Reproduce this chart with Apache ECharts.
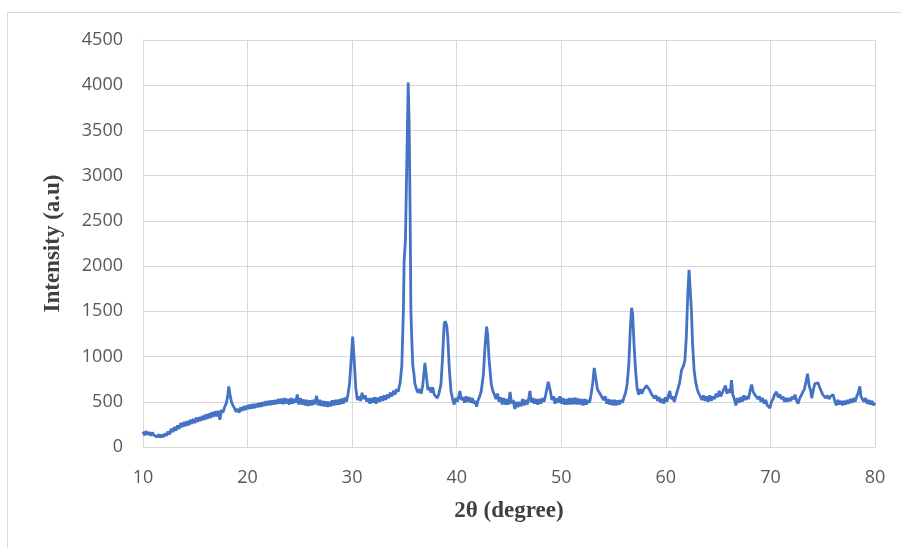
<!DOCTYPE html>
<html>
<head>
<meta charset="utf-8">
<style>
  html, body { margin: 0; padding: 0; background: #fff; }
  #chart { width: 901px; height: 548px; }
</style>
<script src="https://cdn.jsdelivr.net/npm/echarts@6/dist/echarts.min.js"></script>
</head>
<body>
<div id="chart"></div>
<script>
// XRD scan: [2θ, intensity]
const scan = [
  [10.0, 170], [10.15, 130], [10.3, 175], [10.45, 135], [10.6, 165], [10.75, 125], [10.9, 160], [11.05, 130],
  [11.2, 150], [11.35, 110], [11.5, 140], [11.65, 105], [11.8, 135], [11.95, 110], [12.1, 150], [12.25, 125],
  [12.4, 170], [12.55, 140], [12.7, 200], [12.85, 165], [13.0, 220], [13.15, 180], [13.3, 240], [13.45, 200],
  [13.6, 265], [13.75, 220], [13.9, 275], [14.05, 230], [14.2, 285], [14.35, 240], [14.5, 300], [14.65, 255],
  [14.8, 310], [14.95, 265], [15.1, 325], [15.25, 280], [15.4, 330], [15.55, 290], [15.7, 345], [15.85, 300],
  [16.0, 360], [16.15, 310], [16.3, 370], [16.45, 320], [16.6, 385], [16.75, 335], [16.9, 395], [17.05, 340],
  [17.2, 400], [17.35, 300], [17.5, 410], [17.65, 380], [17.8, 440], [17.95, 480], [18.1, 560], [18.2, 670],
  [18.3, 590], [18.45, 500], [18.6, 460], [18.75, 430], [18.9, 390], [19.05, 420], [19.2, 380], [19.35, 440],
  [19.5, 400], [19.65, 450], [19.8, 410], [19.95, 460], [20.1, 420], [20.25, 470], [20.4, 425], [20.55, 475],
  [20.7, 430], [20.85, 480], [21.0, 440], [21.15, 490], [21.3, 445], [21.45, 495], [21.6, 455], [21.75, 505],
  [21.9, 460], [22.05, 510], [22.2, 465], [22.35, 515], [22.5, 470], [22.65, 520], [22.8, 475], [22.95, 530],
  [23.1, 480], [23.25, 535], [23.4, 475], [23.55, 540], [23.7, 480], [23.85, 530], [24.0, 470], [24.15, 540],
  [24.3, 480], [24.45, 530], [24.6, 490], [24.75, 580], [24.9, 470], [25.05, 540], [25.2, 470], [25.35, 525],
  [25.5, 460], [25.65, 520], [25.8, 455], [25.95, 515], [26.1, 460], [26.25, 520], [26.4, 470], [26.6, 565],
  [26.75, 460], [26.9, 520], [27.05, 455], [27.2, 510], [27.35, 450], [27.5, 505], [27.65, 445], [27.8, 500],
  [27.95, 450], [28.1, 515], [28.25, 460], [28.4, 520], [28.55, 465], [28.7, 525], [28.85, 470], [29.0, 535],
  [29.15, 480], [29.3, 545], [29.45, 500], [29.6, 580], [29.75, 700], [29.9, 950], [30.05, 1220], [30.2, 950],
  [30.35, 650], [30.5, 520], [30.65, 560], [30.8, 510], [30.95, 600], [31.1, 530], [31.25, 570], [31.4, 500],
  [31.55, 540], [31.7, 480], [31.85, 540], [32.0, 490], [32.15, 550], [32.3, 480], [32.45, 545], [32.6, 500],
  [32.75, 560], [32.9, 510], [33.05, 570], [33.2, 520], [33.35, 580], [33.5, 540], [33.65, 600], [33.8, 560],
  [33.95, 620], [34.1, 580], [34.25, 640], [34.4, 610], [34.6, 720], [34.75, 900], [34.9, 1500], [34.97, 2050],
  [35.1, 2300], [35.25, 3300], [35.36, 4030], [35.45, 3600], [35.55, 2500], [35.62, 1500], [35.7, 1200], [35.8, 900],
  [35.9, 820], [36.0, 700], [36.15, 640], [36.3, 600], [36.45, 640], [36.6, 590], [36.75, 680], [36.85, 800],
  [36.96, 930], [37.1, 780], [37.25, 630], [37.4, 660], [37.55, 600], [37.7, 660], [37.85, 580], [38.0, 600],
  [38.15, 540], [38.3, 590], [38.5, 700], [38.65, 1000], [38.8, 1360], [38.9, 1390], [39.05, 1340], [39.15, 1200],
  [39.3, 850], [39.45, 620], [39.6, 530], [39.75, 470], [39.9, 540], [40.05, 500], [40.2, 560], [40.3, 620],
  [40.45, 520], [40.6, 550], [40.75, 490], [40.9, 560], [41.05, 500], [41.2, 550], [41.35, 490], [41.5, 540],
  [41.65, 480], [41.8, 510], [41.9, 445], [42.05, 520], [42.2, 560], [42.35, 620], [42.55, 800], [42.7, 1100],
  [42.86, 1330], [42.95, 1250], [43.1, 960], [43.3, 700], [43.45, 620], [43.6, 580], [43.75, 530], [43.9, 590],
  [44.05, 500], [44.2, 550], [44.35, 470], [44.5, 540], [44.65, 470], [44.8, 530], [44.95, 470], [45.1, 610],
  [45.25, 480], [45.4, 520], [45.56, 420], [45.7, 500], [45.85, 440], [46.0, 500], [46.15, 450], [46.3, 530],
  [46.45, 460], [46.6, 520], [46.75, 470], [46.9, 540], [47.0, 620], [47.15, 490], [47.3, 540], [47.45, 480],
  [47.6, 530], [47.75, 470], [47.9, 530], [48.05, 480], [48.2, 540], [48.35, 500], [48.5, 570], [48.75, 720],
  [48.95, 620], [49.1, 520], [49.25, 560], [49.4, 480], [49.55, 540], [49.7, 490], [49.87, 560], [50.0, 480],
  [50.15, 540], [50.3, 470], [50.45, 530], [50.6, 470], [50.75, 540], [50.9, 470], [51.05, 540], [51.2, 475],
  [51.35, 545], [51.5, 470], [51.65, 535], [51.8, 470], [51.95, 530], [52.1, 460], [52.25, 530], [52.4, 470],
  [52.55, 520], [52.7, 490], [52.85, 580], [53.0, 700], [53.15, 875], [53.3, 760], [53.45, 640], [53.6, 660],
  [53.75, 580], [53.9, 590], [54.05, 520], [54.2, 560], [54.35, 480], [54.5, 530], [54.65, 470], [54.8, 520],
  [54.95, 460], [55.1, 520], [55.25, 460], [55.4, 515], [55.55, 470], [55.7, 520], [55.85, 490], [56.0, 550],
  [56.15, 600], [56.3, 700], [56.45, 900], [56.6, 1300], [56.72, 1540], [56.82, 1480], [56.95, 1150], [57.1, 850],
  [57.25, 650], [57.4, 580], [57.55, 640], [57.7, 590], [57.85, 630], [58.0, 610], [58.15, 680], [58.3, 700],
  [58.45, 630], [58.6, 590], [58.75, 600], [58.9, 540], [59.05, 570], [59.2, 510], [59.35, 550], [59.5, 490],
  [59.65, 530], [59.8, 480], [59.95, 550], [60.1, 500], [60.25, 570], [60.38, 620], [60.5, 530], [60.65, 560],
  [60.8, 500], [60.95, 560], [61.1, 620], [61.3, 700], [61.5, 850], [61.7, 900], [61.82, 960], [61.95, 1200],
  [62.1, 1700], [62.22, 1960], [62.35, 1950], [62.45, 1500], [62.55, 1150], [62.7, 850], [62.85, 720], [63.0, 640],
  [63.15, 590], [63.3, 560], [63.45, 520], [63.6, 570], [63.75, 510], [63.9, 560], [64.05, 500], [64.2, 570],
  [64.35, 510], [64.5, 560], [64.65, 530], [64.8, 590], [64.95, 550], [65.1, 620], [65.25, 560], [65.4, 600],
  [65.55, 640], [65.7, 680], [65.85, 590], [66.0, 640], [66.15, 600], [66.28, 740], [66.4, 580], [66.55, 530],
  [66.7, 460], [66.85, 540], [67.0, 490], [67.15, 550], [67.3, 500], [67.45, 570], [67.6, 520], [67.75, 560],
  [67.9, 530], [68.05, 620], [68.2, 690], [68.35, 610], [68.5, 580], [68.65, 600], [68.8, 530], [68.95, 560],
  [69.1, 500], [69.25, 540], [69.4, 480], [69.55, 520], [69.7, 460], [69.85, 480], [69.95, 430], [70.1, 500],
  [70.25, 530], [70.4, 580], [70.58, 610], [70.75, 550], [70.9, 580], [71.05, 530], [71.2, 560], [71.35, 500],
  [71.5, 540], [71.65, 500], [71.8, 540], [71.95, 510], [72.1, 560], [72.25, 530], [72.35, 580], [72.5, 510],
  [72.65, 480], [72.8, 540], [72.95, 570], [73.1, 610], [73.25, 640], [73.4, 720], [73.55, 810], [73.7, 680],
  [73.85, 620], [73.95, 540], [74.1, 630], [74.25, 700], [74.4, 690], [74.55, 710], [74.7, 660], [74.85, 640],
  [75.0, 580], [75.15, 600], [75.3, 540], [75.45, 570], [75.6, 530], [75.75, 560], [75.9, 540], [76.0, 580],
  [76.15, 510], [76.3, 460], [76.45, 520], [76.6, 470], [76.75, 510], [76.9, 460], [77.05, 510], [77.2, 470],
  [77.35, 520], [77.5, 480], [77.65, 530], [77.8, 490], [77.95, 540], [78.1, 500], [78.25, 560], [78.4, 600],
  [78.55, 670], [78.65, 560], [78.8, 530], [78.95, 500], [79.1, 540], [79.25, 480], [79.4, 520], [79.55, 470],
  [79.7, 510], [79.85, 460], [80.0, 490]
]

const xRange = [10, 80]
const xStep = 10
const yRange = [0, 4500]
const yStep = 500

const xTitle = '2θ (degree)'
const yTitle = 'Intensity (a.u)'

const tickFont = { color: '#595959', fontSize: 18, fontFamily: '"Open Sans", sans-serif' }
const titleFont = { color: '#404040', fontSize: 23, fontWeight: 'bold', fontFamily: '"Liberation Serif", serif' }
const gridColor = '#d9d9d9'

const chart = echarts.init(document.getElementById('chart'), null, { renderer: 'canvas' })

chart.setOption({
  animation: false,
  backgroundColor: '#fff',
  graphic: [{
    type: 'rect',
    shape: { x: 7.5, y: 12.5, width: 900, height: 540 },
    style: { fill: 'none', stroke: '#d9d9d9', lineWidth: 1 },
    silent: true,
  }],
  grid: { left: 143, right: 26, top: 40, bottom: 101 },
  xAxis: {
    type: 'value',
    min: xRange[0],
    max: xRange[1],
    interval: xStep,
    name: xTitle,
    nameLocation: 'middle',
    nameGap: 53,
    nameTextStyle: titleFont,
    axisLine: { show: true, lineStyle: { color: gridColor, width: 1 } },
    axisTick: { show: false },
    axisLabel: { ...tickFont, margin: 22 },
    splitLine: { show: true, lineStyle: { color: gridColor, width: 1 } },
  },
  yAxis: {
    type: 'value',
    min: yRange[0],
    max: yRange[1],
    interval: yStep,
    name: yTitle,
    nameLocation: 'middle',
    nameGap: 78,
    nameTextStyle: titleFont,
    axisLine: { show: true, lineStyle: { color: gridColor, width: 1 } },
    axisTick: { show: false },
    axisLabel: { ...tickFont, margin: 20, formatter: (v) => String(v) },
    splitLine: { show: true, lineStyle: { color: gridColor, width: 1 } },
  },
  series: [{
    type: 'line',
    data: scan,
    showSymbol: false,
    symbol: 'none',
    lineStyle: { color: '#4472C4', width: 2.8 },
    itemStyle: { color: '#4472C4' },
  }],
})
</script>
</body>
</html>
